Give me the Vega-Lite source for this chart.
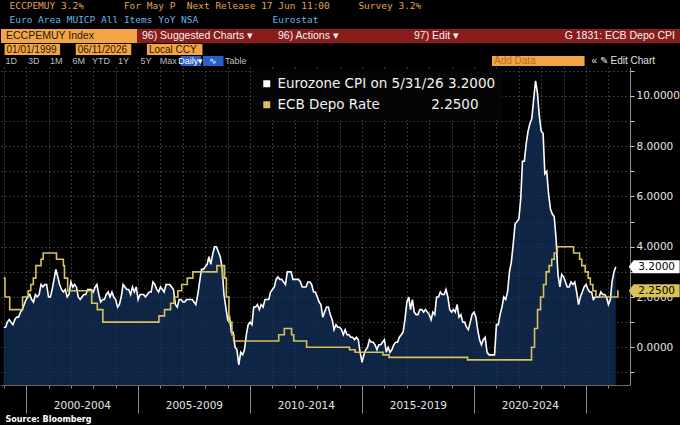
{
  "$schema": "https://vega.github.io/schema/vega-lite/v6.json",
  "background": "black",
  "padding": {"top": 1, "left": 0, "right": 0, "bottom": 0},
  "spacing": 1,
  "resolve": {"scale": {"color": "independent"}},
  "config": {"view": {"stroke": null}, "font": "DejaVu Sans"},
  "title": {
    "text": "ECCPEMUY 3.2%\u00a0\u00a0\u00a0\u00a0\u00a0\u00a0\u00a0For May P\u00a0\u00a0Next Release 17 Jun 11:00\u00a0\u00a0\u00a0\u00a0\u00a0Survey 3.2%",
    "subtitle": "Euro Area MUICP All Items YoY NSA\u00a0\u00a0\u00a0\u00a0\u00a0\u00a0\u00a0\u00a0\u00a0\u00a0\u00a0\u00a0\u00a0Eurostat",
    "anchor": "start", "frame": "bounds", "dx": 9, "offset": 5,
    "font": "DejaVu Sans Mono", "fontSize": 9.5, "fontWeight": "normal", "color": "#e2a35a",
    "subtitleFont": "DejaVu Sans Mono", "subtitleFontSize": 9.5, "subtitleColor": "#63b8e8", "subtitlePadding": 4
  },
  "vconcat": [
    {
      "width": 680, "height": 14,
      "data": {"values": [
        {"item": "ECCPEMUY Index", "kind": "security"},
        {"item": "96) Suggested Charts \u25be", "kind": "menu"},
        {"item": "96) Actions \u25be", "kind": "menu"},
        {"item": "97) Edit \u25be", "kind": "menu"},
        {"item": "G 1831: ECB Depo CPI", "kind": "chart"}
      ]},
      "encoding": {
        "x": {"field": "item", "type": "nominal", "axis": null,
          "scale": {"domain": ["ECCPEMUY Index", "96) Suggested Charts \u25be", "96) Actions \u25be", "97) Edit \u25be", "G 1831: ECB Depo CPI"], "paddingInner": 0, "paddingOuter": 0}}
      },
      "layer": [
        {"mark": "rect",
         "encoding": {"color": {"field": "kind", "type": "nominal", "legend": null,
           "scale": {"domain": ["security", "menu", "chart"], "range": ["#f3a445", "#8b1c1c", "#8b1c1c"]}}}},
        {"transform": [{"filter": "datum.kind != 'chart'"}],
         "mark": {"type": "text", "align": "left", "dx": 5, "font": "Liberation Sans", "fontSize": 10.5},
         "encoding": {"x": {"field": "item", "type": "nominal", "bandPosition": 0},
           "text": {"field": "item"},
           "color": {"condition": {"test": "datum.kind == 'security'", "value": "#1a1a1a"}, "value": "#f2f2f2"}}},
        {"transform": [{"filter": "datum.kind == 'chart'"}],
         "mark": {"type": "text", "align": "right", "dx": -6, "font": "Liberation Sans", "fontSize": 10.5, "color": "#f2f2f2"},
         "encoding": {"x": {"field": "item", "type": "nominal", "bandPosition": 1}, "text": {"field": "item"}}}
      ]
    },
    {
      "width": 205, "height": 11,
      "data": {"values": [{"item": "01/01/1999"}, {"item": "06/11/2026"}, {"item": "Local CCY"}]},
      "encoding": {"x": {"field": "item", "type": "nominal", "axis": null,
        "scale": {"domain": ["01/01/1999", "06/11/2026", "Local CCY"], "paddingInner": 0.22, "paddingOuter": 0.05}}},
      "layer": [
        {"mark": {"type": "rect", "color": "#f3a445"}},
        {"mark": {"type": "text", "align": "left", "dx": 2, "font": "Liberation Sans", "fontSize": 10, "color": "#2a1a05"},
         "encoding": {"x": {"field": "item", "type": "nominal", "bandPosition": 0}, "text": {"field": "item"}}}
      ]
    },
    {
      "spacing": 245,
      "resolve": {"scale": {"color": "independent"}},
      "hconcat": [
        {
          "width": 245, "height": 10,
          "data": {"values": [
            {"item": "1D", "kind": "range"}, {"item": "3D", "kind": "range"}, {"item": "1M", "kind": "range"},
            {"item": "6M", "kind": "range"}, {"item": "YTD", "kind": "range"}, {"item": "1Y", "kind": "range"},
            {"item": "5Y", "kind": "range"}, {"item": "Max", "kind": "range"}, {"item": "Daily\u25be", "kind": "active"},
            {"item": "\u223f", "kind": "active"}, {"item": "Table", "kind": "range"}
          ]},
          "encoding": {"x": {"field": "item", "type": "nominal", "axis": null,
            "scale": {"domain": ["1D", "3D", "1M", "6M", "YTD", "1Y", "5Y", "Max", "Daily\u25be", "\u223f", "Table"], "paddingInner": 0.08, "paddingOuter": 0}}},
          "layer": [
            {"transform": [{"filter": "datum.kind == 'active'"}], "mark": {"type": "rect", "color": "#2660c8"}},
            {"mark": {"type": "text", "font": "Liberation Sans", "fontSize": 9},
             "encoding": {"text": {"field": "item"},
               "color": {"condition": {"test": "datum.kind == 'active'", "value": "#ffffff"}, "value": "#bdbdbd"}}}
          ]
        },
        {
          "width": 190, "height": 10,
          "data": {"values": [{"item": "Add Data", "kind": "input"}, {"item": "\u00ab \u270e Edit Chart", "kind": "button"}]},
          "encoding": {"x": {"field": "item", "type": "nominal", "axis": null,
            "scale": {"domain": ["Add Data", "\u00ab \u270e Edit Chart"], "paddingInner": 0.05, "paddingOuter": 0}}},
          "layer": [
            {"transform": [{"filter": "datum.kind == 'input'"}], "mark": {"type": "rect", "color": "#f3a445"}},
            {"mark": {"type": "text", "align": "left", "dx": 2, "font": "Liberation Sans", "fontSize": 10},
             "encoding": {"x": {"field": "item", "type": "nominal", "bandPosition": 0}, "text": {"field": "item"},
               "color": {"condition": {"test": "datum.kind == 'input'", "value": "#b86d1f"}, "value": "#e0e0e0"}}}
          ]
        }
      ]
    },
    {
      "width": 629, "height": 318,
      "data": {"format": {"parse": {"d": "date"}}, "values": [
        {"d":"1999-01","s":"CPI","v":0.8},{"d":"1999-02","s":"CPI","v":0.8},{"d":"1999-03","s":"CPI","v":1.0},{"d":"1999-04","s":"CPI","v":1.1},{"d":"1999-05","s":"CPI","v":1.0},{"d":"1999-06","s":"CPI","v":0.9},{"d":"1999-07","s":"CPI","v":1.1},{"d":"1999-08","s":"CPI","v":1.2},{"d":"1999-09","s":"CPI","v":1.2},{"d":"1999-10","s":"CPI","v":1.4},{"d":"1999-11","s":"CPI","v":1.5},{"d":"1999-12","s":"CPI","v":1.7},
        {"d":"2000-01","s":"CPI","v":1.9},{"d":"2000-02","s":"CPI","v":2.0},{"d":"2000-03","s":"CPI","v":2.1},{"d":"2000-04","s":"CPI","v":1.9},{"d":"2000-05","s":"CPI","v":1.8},{"d":"2000-06","s":"CPI","v":2.1},{"d":"2000-07","s":"CPI","v":2.0},{"d":"2000-08","s":"CPI","v":2.1},{"d":"2000-09","s":"CPI","v":2.5},{"d":"2000-10","s":"CPI","v":2.4},{"d":"2000-11","s":"CPI","v":2.5},{"d":"2000-12","s":"CPI","v":2.5},
        {"d":"2001-01","s":"CPI","v":2.0},{"d":"2001-02","s":"CPI","v":2.0},{"d":"2001-03","s":"CPI","v":2.3},{"d":"2001-04","s":"CPI","v":2.7},{"d":"2001-05","s":"CPI","v":3.1},{"d":"2001-06","s":"CPI","v":2.8},{"d":"2001-07","s":"CPI","v":2.5},{"d":"2001-08","s":"CPI","v":2.3},{"d":"2001-09","s":"CPI","v":2.2},{"d":"2001-10","s":"CPI","v":2.3},{"d":"2001-11","s":"CPI","v":2.0},{"d":"2001-12","s":"CPI","v":2.1},
        {"d":"2002-01","s":"CPI","v":2.6},{"d":"2002-02","s":"CPI","v":2.4},{"d":"2002-03","s":"CPI","v":2.5},{"d":"2002-04","s":"CPI","v":2.4},{"d":"2002-05","s":"CPI","v":2.0},{"d":"2002-06","s":"CPI","v":1.9},{"d":"2002-07","s":"CPI","v":2.0},{"d":"2002-08","s":"CPI","v":2.1},{"d":"2002-09","s":"CPI","v":2.1},{"d":"2002-10","s":"CPI","v":2.3},{"d":"2002-11","s":"CPI","v":2.3},{"d":"2002-12","s":"CPI","v":2.3},
        {"d":"2003-01","s":"CPI","v":2.2},{"d":"2003-02","s":"CPI","v":2.4},{"d":"2003-03","s":"CPI","v":2.5},{"d":"2003-04","s":"CPI","v":2.1},{"d":"2003-05","s":"CPI","v":1.8},{"d":"2003-06","s":"CPI","v":1.9},{"d":"2003-07","s":"CPI","v":1.9},{"d":"2003-08","s":"CPI","v":2.1},{"d":"2003-09","s":"CPI","v":2.2},{"d":"2003-10","s":"CPI","v":2.0},{"d":"2003-11","s":"CPI","v":2.2},{"d":"2003-12","s":"CPI","v":2.0},
        {"d":"2004-01","s":"CPI","v":1.9},{"d":"2004-02","s":"CPI","v":1.6},{"d":"2004-03","s":"CPI","v":1.7},{"d":"2004-04","s":"CPI","v":2.0},{"d":"2004-05","s":"CPI","v":2.5},{"d":"2004-06","s":"CPI","v":2.4},{"d":"2004-07","s":"CPI","v":2.3},{"d":"2004-08","s":"CPI","v":2.3},{"d":"2004-09","s":"CPI","v":2.1},{"d":"2004-10","s":"CPI","v":2.4},{"d":"2004-11","s":"CPI","v":2.2},{"d":"2004-12","s":"CPI","v":2.4},
        {"d":"2005-01","s":"CPI","v":1.9},{"d":"2005-02","s":"CPI","v":2.1},{"d":"2005-03","s":"CPI","v":2.1},{"d":"2005-04","s":"CPI","v":2.1},{"d":"2005-05","s":"CPI","v":2.0},{"d":"2005-06","s":"CPI","v":2.1},{"d":"2005-07","s":"CPI","v":2.2},{"d":"2005-08","s":"CPI","v":2.2},{"d":"2005-09","s":"CPI","v":2.6},{"d":"2005-10","s":"CPI","v":2.5},{"d":"2005-11","s":"CPI","v":2.3},{"d":"2005-12","s":"CPI","v":2.2},
        {"d":"2006-01","s":"CPI","v":2.4},{"d":"2006-02","s":"CPI","v":2.3},{"d":"2006-03","s":"CPI","v":2.2},{"d":"2006-04","s":"CPI","v":2.5},{"d":"2006-05","s":"CPI","v":2.5},{"d":"2006-06","s":"CPI","v":2.5},{"d":"2006-07","s":"CPI","v":2.4},{"d":"2006-08","s":"CPI","v":2.3},{"d":"2006-09","s":"CPI","v":1.7},{"d":"2006-10","s":"CPI","v":1.6},{"d":"2006-11","s":"CPI","v":1.9},{"d":"2006-12","s":"CPI","v":1.9},
        {"d":"2007-01","s":"CPI","v":1.8},{"d":"2007-02","s":"CPI","v":1.8},{"d":"2007-03","s":"CPI","v":1.9},{"d":"2007-04","s":"CPI","v":1.9},{"d":"2007-05","s":"CPI","v":1.9},{"d":"2007-06","s":"CPI","v":1.9},{"d":"2007-07","s":"CPI","v":1.8},{"d":"2007-08","s":"CPI","v":1.7},{"d":"2007-09","s":"CPI","v":2.1},{"d":"2007-10","s":"CPI","v":2.6},{"d":"2007-11","s":"CPI","v":3.1},{"d":"2007-12","s":"CPI","v":3.1},
        {"d":"2008-01","s":"CPI","v":3.2},{"d":"2008-02","s":"CPI","v":3.3},{"d":"2008-03","s":"CPI","v":3.6},{"d":"2008-04","s":"CPI","v":3.3},{"d":"2008-05","s":"CPI","v":3.7},{"d":"2008-06","s":"CPI","v":4.0},{"d":"2008-07","s":"CPI","v":4.0},{"d":"2008-08","s":"CPI","v":3.8},{"d":"2008-09","s":"CPI","v":3.6},{"d":"2008-10","s":"CPI","v":3.2},{"d":"2008-11","s":"CPI","v":2.1},{"d":"2008-12","s":"CPI","v":1.6},
        {"d":"2009-01","s":"CPI","v":1.1},{"d":"2009-02","s":"CPI","v":1.2},{"d":"2009-03","s":"CPI","v":0.6},{"d":"2009-04","s":"CPI","v":0.6},{"d":"2009-05","s":"CPI","v":0.0},{"d":"2009-06","s":"CPI","v":-0.1},{"d":"2009-07","s":"CPI","v":-0.7},{"d":"2009-08","s":"CPI","v":-0.2},{"d":"2009-09","s":"CPI","v":-0.3},{"d":"2009-10","s":"CPI","v":-0.1},{"d":"2009-11","s":"CPI","v":0.5},{"d":"2009-12","s":"CPI","v":0.9},
        {"d":"2010-01","s":"CPI","v":1.0},{"d":"2010-02","s":"CPI","v":0.9},{"d":"2010-03","s":"CPI","v":1.6},{"d":"2010-04","s":"CPI","v":1.6},{"d":"2010-05","s":"CPI","v":1.7},{"d":"2010-06","s":"CPI","v":1.5},{"d":"2010-07","s":"CPI","v":1.7},{"d":"2010-08","s":"CPI","v":1.6},{"d":"2010-09","s":"CPI","v":1.9},{"d":"2010-10","s":"CPI","v":1.9},{"d":"2010-11","s":"CPI","v":1.9},{"d":"2010-12","s":"CPI","v":2.2},
        {"d":"2011-01","s":"CPI","v":2.3},{"d":"2011-02","s":"CPI","v":2.4},{"d":"2011-03","s":"CPI","v":2.7},{"d":"2011-04","s":"CPI","v":2.8},{"d":"2011-05","s":"CPI","v":2.7},{"d":"2011-06","s":"CPI","v":2.7},{"d":"2011-07","s":"CPI","v":2.6},{"d":"2011-08","s":"CPI","v":2.5},{"d":"2011-09","s":"CPI","v":3.0},{"d":"2011-10","s":"CPI","v":3.0},{"d":"2011-11","s":"CPI","v":3.0},{"d":"2011-12","s":"CPI","v":2.7},
        {"d":"2012-01","s":"CPI","v":2.7},{"d":"2012-02","s":"CPI","v":2.7},{"d":"2012-03","s":"CPI","v":2.7},{"d":"2012-04","s":"CPI","v":2.6},{"d":"2012-05","s":"CPI","v":2.4},{"d":"2012-06","s":"CPI","v":2.4},{"d":"2012-07","s":"CPI","v":2.4},{"d":"2012-08","s":"CPI","v":2.6},{"d":"2012-09","s":"CPI","v":2.6},{"d":"2012-10","s":"CPI","v":2.5},{"d":"2012-11","s":"CPI","v":2.2},{"d":"2012-12","s":"CPI","v":2.2},
        {"d":"2013-01","s":"CPI","v":2.0},{"d":"2013-02","s":"CPI","v":1.8},{"d":"2013-03","s":"CPI","v":1.7},{"d":"2013-04","s":"CPI","v":1.2},{"d":"2013-05","s":"CPI","v":1.4},{"d":"2013-06","s":"CPI","v":1.6},{"d":"2013-07","s":"CPI","v":1.6},{"d":"2013-08","s":"CPI","v":1.3},{"d":"2013-09","s":"CPI","v":1.1},{"d":"2013-10","s":"CPI","v":0.7},{"d":"2013-11","s":"CPI","v":0.9},{"d":"2013-12","s":"CPI","v":0.8},
        {"d":"2014-01","s":"CPI","v":0.8},{"d":"2014-02","s":"CPI","v":0.7},{"d":"2014-03","s":"CPI","v":0.5},{"d":"2014-04","s":"CPI","v":0.7},{"d":"2014-05","s":"CPI","v":0.5},{"d":"2014-06","s":"CPI","v":0.5},{"d":"2014-07","s":"CPI","v":0.4},{"d":"2014-08","s":"CPI","v":0.4},{"d":"2014-09","s":"CPI","v":0.3},{"d":"2014-10","s":"CPI","v":0.4},{"d":"2014-11","s":"CPI","v":0.3},{"d":"2014-12","s":"CPI","v":-0.2},
        {"d":"2015-01","s":"CPI","v":-0.6},{"d":"2015-02","s":"CPI","v":-0.3},{"d":"2015-03","s":"CPI","v":-0.1},{"d":"2015-04","s":"CPI","v":0.0},{"d":"2015-05","s":"CPI","v":0.3},{"d":"2015-06","s":"CPI","v":0.2},{"d":"2015-07","s":"CPI","v":0.2},{"d":"2015-08","s":"CPI","v":0.1},{"d":"2015-09","s":"CPI","v":-0.1},{"d":"2015-10","s":"CPI","v":0.1},{"d":"2015-11","s":"CPI","v":0.1},{"d":"2015-12","s":"CPI","v":0.2},
        {"d":"2016-01","s":"CPI","v":0.3},{"d":"2016-02","s":"CPI","v":-0.2},{"d":"2016-03","s":"CPI","v":0.0},{"d":"2016-04","s":"CPI","v":-0.2},{"d":"2016-05","s":"CPI","v":-0.1},{"d":"2016-06","s":"CPI","v":0.1},{"d":"2016-07","s":"CPI","v":0.2},{"d":"2016-08","s":"CPI","v":0.2},{"d":"2016-09","s":"CPI","v":0.4},{"d":"2016-10","s":"CPI","v":0.5},{"d":"2016-11","s":"CPI","v":0.6},{"d":"2016-12","s":"CPI","v":1.1},
        {"d":"2017-01","s":"CPI","v":1.8},{"d":"2017-02","s":"CPI","v":2.0},{"d":"2017-03","s":"CPI","v":1.5},{"d":"2017-04","s":"CPI","v":1.9},{"d":"2017-05","s":"CPI","v":1.4},{"d":"2017-06","s":"CPI","v":1.3},{"d":"2017-07","s":"CPI","v":1.3},{"d":"2017-08","s":"CPI","v":1.5},{"d":"2017-09","s":"CPI","v":1.5},{"d":"2017-10","s":"CPI","v":1.4},{"d":"2017-11","s":"CPI","v":1.5},{"d":"2017-12","s":"CPI","v":1.4},
        {"d":"2018-01","s":"CPI","v":1.3},{"d":"2018-02","s":"CPI","v":1.1},{"d":"2018-03","s":"CPI","v":1.4},{"d":"2018-04","s":"CPI","v":1.3},{"d":"2018-05","s":"CPI","v":2.0},{"d":"2018-06","s":"CPI","v":2.0},{"d":"2018-07","s":"CPI","v":2.2},{"d":"2018-08","s":"CPI","v":2.1},{"d":"2018-09","s":"CPI","v":2.1},{"d":"2018-10","s":"CPI","v":2.3},{"d":"2018-11","s":"CPI","v":2.0},{"d":"2018-12","s":"CPI","v":1.5},
        {"d":"2019-01","s":"CPI","v":1.4},{"d":"2019-02","s":"CPI","v":1.5},{"d":"2019-03","s":"CPI","v":1.4},{"d":"2019-04","s":"CPI","v":1.7},{"d":"2019-05","s":"CPI","v":1.2},{"d":"2019-06","s":"CPI","v":1.3},{"d":"2019-07","s":"CPI","v":1.0},{"d":"2019-08","s":"CPI","v":1.0},{"d":"2019-09","s":"CPI","v":0.8},{"d":"2019-10","s":"CPI","v":0.7},{"d":"2019-11","s":"CPI","v":1.0},{"d":"2019-12","s":"CPI","v":1.3},
        {"d":"2020-01","s":"CPI","v":1.4},{"d":"2020-02","s":"CPI","v":1.2},{"d":"2020-03","s":"CPI","v":0.7},{"d":"2020-04","s":"CPI","v":0.3},{"d":"2020-05","s":"CPI","v":0.1},{"d":"2020-06","s":"CPI","v":0.3},{"d":"2020-07","s":"CPI","v":0.4},{"d":"2020-08","s":"CPI","v":-0.2},{"d":"2020-09","s":"CPI","v":-0.3},{"d":"2020-10","s":"CPI","v":-0.3},{"d":"2020-11","s":"CPI","v":-0.3},{"d":"2020-12","s":"CPI","v":-0.3},
        {"d":"2021-01","s":"CPI","v":0.9},{"d":"2021-02","s":"CPI","v":0.9},{"d":"2021-03","s":"CPI","v":1.3},{"d":"2021-04","s":"CPI","v":1.6},{"d":"2021-05","s":"CPI","v":2.0},{"d":"2021-06","s":"CPI","v":1.9},{"d":"2021-07","s":"CPI","v":2.2},{"d":"2021-08","s":"CPI","v":3.0},{"d":"2021-09","s":"CPI","v":3.4},{"d":"2021-10","s":"CPI","v":4.1},{"d":"2021-11","s":"CPI","v":4.9},{"d":"2021-12","s":"CPI","v":5.0},
        {"d":"2022-01","s":"CPI","v":5.1},{"d":"2022-02","s":"CPI","v":5.9},{"d":"2022-03","s":"CPI","v":7.4},{"d":"2022-04","s":"CPI","v":7.4},{"d":"2022-05","s":"CPI","v":8.1},{"d":"2022-06","s":"CPI","v":8.6},{"d":"2022-07","s":"CPI","v":8.9},{"d":"2022-08","s":"CPI","v":9.1},{"d":"2022-09","s":"CPI","v":9.9},{"d":"2022-10","s":"CPI","v":10.6},{"d":"2022-11","s":"CPI","v":10.1},{"d":"2022-12","s":"CPI","v":9.2},
        {"d":"2023-01","s":"CPI","v":8.6},{"d":"2023-02","s":"CPI","v":8.5},{"d":"2023-03","s":"CPI","v":6.9},{"d":"2023-04","s":"CPI","v":7.0},{"d":"2023-05","s":"CPI","v":6.1},{"d":"2023-06","s":"CPI","v":5.5},{"d":"2023-07","s":"CPI","v":5.3},{"d":"2023-08","s":"CPI","v":5.2},{"d":"2023-09","s":"CPI","v":4.3},{"d":"2023-10","s":"CPI","v":2.9},{"d":"2023-11","s":"CPI","v":2.4},{"d":"2023-12","s":"CPI","v":2.9},
        {"d":"2024-01","s":"CPI","v":2.8},{"d":"2024-02","s":"CPI","v":2.6},{"d":"2024-03","s":"CPI","v":2.4},{"d":"2024-04","s":"CPI","v":2.4},{"d":"2024-05","s":"CPI","v":2.6},{"d":"2024-06","s":"CPI","v":2.5},{"d":"2024-07","s":"CPI","v":2.6},{"d":"2024-08","s":"CPI","v":2.2},{"d":"2024-09","s":"CPI","v":1.7},{"d":"2024-10","s":"CPI","v":2.0},{"d":"2024-11","s":"CPI","v":2.2},{"d":"2024-12","s":"CPI","v":2.4},
        {"d":"2025-01","s":"CPI","v":2.5},{"d":"2025-02","s":"CPI","v":2.3},{"d":"2025-03","s":"CPI","v":2.2},{"d":"2025-04","s":"CPI","v":2.2},{"d":"2025-05","s":"CPI","v":1.9},{"d":"2025-06","s":"CPI","v":2.0},{"d":"2025-07","s":"CPI","v":2.0},{"d":"2025-08","s":"CPI","v":2.0},{"d":"2025-09","s":"CPI","v":2.2},{"d":"2025-10","s":"CPI","v":2.1},{"d":"2025-11","s":"CPI","v":2.1},{"d":"2025-12","s":"CPI","v":2.0},
        {"d":"2026-01","s":"CPI","v":1.7},{"d":"2026-02","s":"CPI","v":1.9},{"d":"2026-03","s":"CPI","v":2.6},{"d":"2026-04","s":"CPI","v":3.0},{"d":"2026-05","s":"CPI","v":3.2},
        {"d":"1999-01-01","s":"Depo","v":2.75},{"d":"1999-01-22","s":"Depo","v":2.0},{"d":"1999-04-09","s":"Depo","v":1.5},{"d":"1999-11-05","s":"Depo","v":2.0},
        {"d":"2000-02-04","s":"Depo","v":2.25},{"d":"2000-03-17","s":"Depo","v":2.5},{"d":"2000-04-28","s":"Depo","v":2.75},{"d":"2000-06-09","s":"Depo","v":3.25},{"d":"2000-09-01","s":"Depo","v":3.5},{"d":"2000-10-06","s":"Depo","v":3.75},
        {"d":"2001-05-11","s":"Depo","v":3.5},{"d":"2001-08-31","s":"Depo","v":3.25},{"d":"2001-09-18","s":"Depo","v":2.75},{"d":"2001-11-09","s":"Depo","v":2.25},
        {"d":"2002-12-06","s":"Depo","v":1.75},{"d":"2003-03-07","s":"Depo","v":1.5},{"d":"2003-06-06","s":"Depo","v":1.0},
        {"d":"2005-12-06","s":"Depo","v":1.25},{"d":"2006-03-08","s":"Depo","v":1.5},{"d":"2006-06-15","s":"Depo","v":1.75},{"d":"2006-08-09","s":"Depo","v":2.0},{"d":"2006-10-11","s":"Depo","v":2.25},{"d":"2006-12-13","s":"Depo","v":2.5},
        {"d":"2007-03-14","s":"Depo","v":2.75},{"d":"2007-06-13","s":"Depo","v":3.0},{"d":"2008-07-09","s":"Depo","v":3.25},{"d":"2008-10-08","s":"Depo","v":2.75},{"d":"2008-10-09","s":"Depo","v":3.25},{"d":"2008-11-12","s":"Depo","v":2.75},{"d":"2008-12-10","s":"Depo","v":2.0},
        {"d":"2009-01-21","s":"Depo","v":1.0},{"d":"2009-03-11","s":"Depo","v":0.5},{"d":"2009-04-08","s":"Depo","v":0.25},
        {"d":"2011-04-13","s":"Depo","v":0.5},{"d":"2011-07-13","s":"Depo","v":0.75},{"d":"2011-11-09","s":"Depo","v":0.5},{"d":"2011-12-14","s":"Depo","v":0.25},
        {"d":"2012-07-11","s":"Depo","v":0.0},{"d":"2014-06-11","s":"Depo","v":-0.1},{"d":"2014-09-10","s":"Depo","v":-0.2},{"d":"2015-12-09","s":"Depo","v":-0.3},{"d":"2016-03-16","s":"Depo","v":-0.4},{"d":"2019-09-18","s":"Depo","v":-0.5},
        {"d":"2022-07-27","s":"Depo","v":0.0},{"d":"2022-09-14","s":"Depo","v":0.75},{"d":"2022-11-02","s":"Depo","v":1.5},{"d":"2022-12-21","s":"Depo","v":2.0},
        {"d":"2023-02-08","s":"Depo","v":2.5},{"d":"2023-03-22","s":"Depo","v":3.0},{"d":"2023-05-10","s":"Depo","v":3.25},{"d":"2023-06-21","s":"Depo","v":3.5},{"d":"2023-08-02","s":"Depo","v":3.75},{"d":"2023-09-20","s":"Depo","v":4.0},
        {"d":"2024-06-12","s":"Depo","v":3.75},{"d":"2024-09-18","s":"Depo","v":3.5},{"d":"2024-10-23","s":"Depo","v":3.25},{"d":"2024-12-18","s":"Depo","v":3.0},
        {"d":"2025-02-05","s":"Depo","v":2.75},{"d":"2025-03-12","s":"Depo","v":2.5},{"d":"2025-04-23","s":"Depo","v":2.25},{"d":"2025-06-11","s":"Depo","v":2.0},
        {"d":"2026-06-04","s":"Depo","v":2.25},{"d":"2026-06-11","s":"Depo","v":2.25}
      ]},
      "encoding": {
        "x": {"field": "d", "type": "temporal",
          "scale": {"domain": [{"year": 1998, "month": 11, "date": 18}, {"year": 2026, "month": 12, "date": 19}], "nice": false},
          "axis": {
            "title": "Source: Bloomberg", "titleX": 4, "titleY": 34, "titleAlign": "left", "titleAnchor": "start", "titleBaseline": "middle",
            "titleFont": "DejaVu Sans", "titleFontSize": 8, "titleFontWeight": "bold", "titleColor": "#ffffff",
            "grid": true, "gridColor": "#6a6a6a", "gridDash": [1, 3],
            "tickCount": {"interval": "year", "step": 1},
            "labelExpr": "year(datum.value) % 5 == 2 ? (year(datum.value) - 2) + '-' + (year(datum.value) + 2) : ''",
            "labelOffset": 11, "labelAlign": "center", "labelFlush": false, "labelOverlap": false, "labelBaseline": "top",
            "labelColor": "#e4e4e4", "labelFont": "DejaVu Sans", "labelFontSize": 10.5, "labelPadding": 12,
            "tickColor": "#8a8a8a",
            "tickSize": {"condition": {"test": "year(datum.value) % 5 == 0", "value": 28}, "value": 3},
            "domainColor": "#666"
          }},
        "y": {"field": "v", "type": "quantitative", "title": null,
          "scale": {"domain": [-1.5, 11.15], "nice": false, "zero": false},
          "axis": {
            "orient": "right", "values": [-1, 0, 1, 2, 3, 4, 5, 6, 7, 8, 9, 10, 11],
            "labelExpr": "datum.value % 2 == 0 ? format(datum.value, '.4f') : ''",
            "grid": true, "gridColor": "#6a6a6a", "gridDash": [1, 3],
            "tickSize": 4, "tickColor": "#c8c8c8", "domainColor": "#8a8a8a",
            "labelColor": "#e6e6e6", "labelFont": "DejaVu Sans", "labelFontSize": 10.5, "labelPadding": 2
          }},
        "color": {"field": "s", "type": "nominal",
          "scale": {"domain": ["CPI", "Depo"], "range": ["#ffffff", "#d8c25a"]},
          "legend": {
            "orient": "none", "legendX": 253, "legendY": 4, "title": null,
            "fillColor": "#050505", "padding": 6, "rowPadding": 3,
            "symbolType": "square", "symbolSize": 12, "symbolStrokeWidth": 3.5,
            "labelFont": "DejaVu Sans", "labelFontSize": 13.5, "labelColor": "#f2f2f2", "labelLimit": 400, "labelOffset": 4,
            "labelExpr": "datum.label == 'CPI' ? 'Eurozone CPI on 5/31/26 3.2000' : 'ECB Depo Rate\u00a0\u00a0\u00a0\u00a0\u00a0\u00a0\u00a0\u00a0\u00a0\u00a0\u00a0 2.2500'"
          }}
      },
      "layer": [
        {"transform": [{"filter": "datum.s == 'CPI'"}],
         "mark": {"type": "area", "fill": "#12305a", "fillOpacity": 0.78},
         "encoding": {"y2": {"datum": -1.5}, "color": {"value": "#12305a"}}},
        {"transform": [{"filter": "datum.s == 'CPI'"}],
         "mark": {"type": "line", "strokeWidth": 1.6}},
        {"transform": [{"filter": "datum.s == 'Depo'"}],
         "mark": {"type": "line", "strokeWidth": 1.6, "interpolate": "step-after"}},
        {"transform": [
           {"window": [{"op": "row_number", "as": "rn"}], "groupby": ["s"], "sort": [{"field": "d", "order": "descending"}]},
           {"filter": "datum.rn == 1"}],
         "layer": [
           {"mark": {"type": "point", "filled": true, "opacity": 1, "strokeWidth": 0, "size": 2304,
              "shape": "M -1.12 0 L -0.92 -0.27 L 1 -0.27 L 1 0.27 L -0.92 0.27 Z"},
            "encoding": {"x": {"datum": {"year": 2028, "month": 2, "date": 10}}}},
           {"mark": {"type": "text", "font": "DejaVu Sans", "fontSize": 10.5, "align": "center", "baseline": "middle", "dx": 1},
            "encoding": {"x": {"datum": {"year": 2028, "month": 2, "date": 10}},
              "text": {"field": "v", "format": ".4f"}, "color": {"value": "#000000"}}}
         ]}
      ]
    }
  ]
}
